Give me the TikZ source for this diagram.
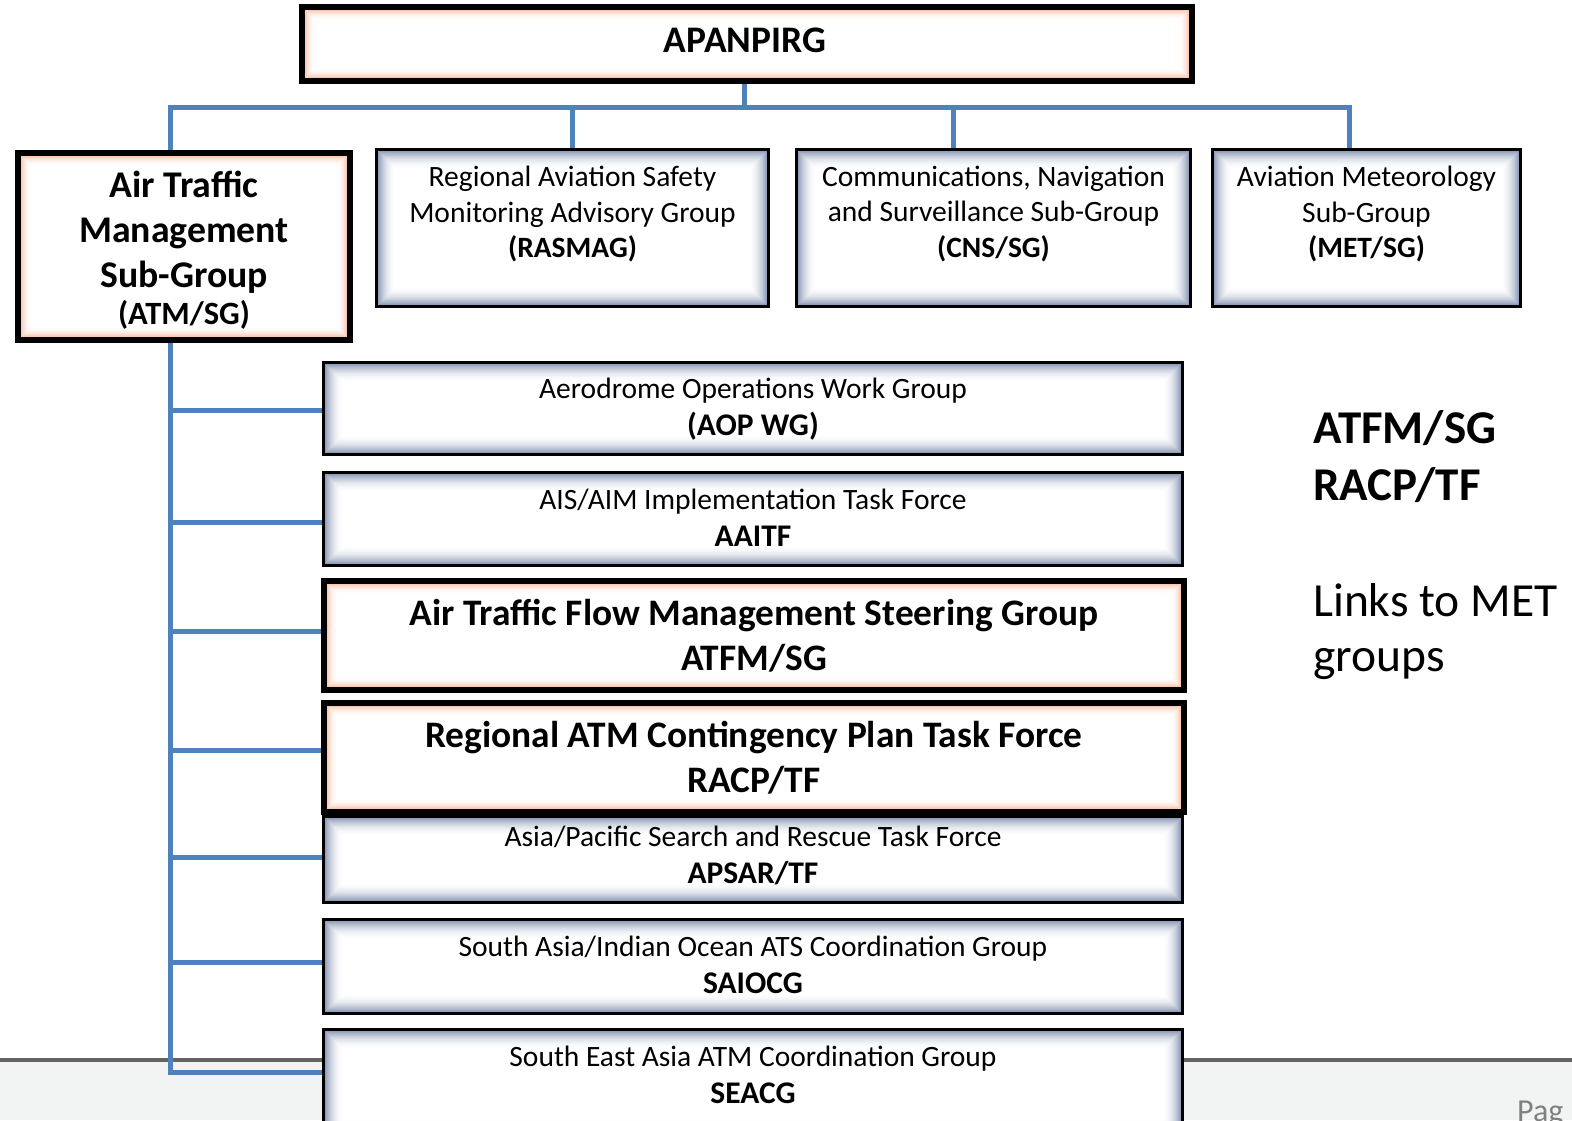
\documentclass[tikz,border=0pt]{standalone}
\usepackage{fontspec}
\setmainfont{Carlito}
\usetikzlibrary{calc}
\definecolor{conn}{RGB}{79,129,189}
\definecolor{blueglow}{RGB}{120,136,170}
\definecolor{orangeglow}{RGB}{246,150,104}
\definecolor{footline}{RGB}{100,100,100}
\definecolor{footfill}{RGB}{242,244,244}
\pgfdeclarelayer{bg}
\pgfsetlayers{bg,main}
\newcommand{\boldline}{\bfseries\fontsize{31.5}{36}\selectfont}
\tikzset{
  glow/.style 2 args={path picture={
    \foreach \i in {0,...,#2}{
      \pgfmathsetmacro\glowpct{100*(1-\i/#2)^2}
      \draw[draw=#1!\glowpct!white, line width=1.4pt]
        ([shift={(\i pt,-\i pt)}]path picture bounding box.north west) rectangle
        ([shift={(-\i pt,\i pt)}]path picture bounding box.south east);
    }}},
  bbox/.style={draw=black, line width=3pt, fill=white, glow={blueglow}{20}, inner sep=0pt},
  obox/.style={draw=black, line width=6pt, fill=white, glow={orangeglow}{14}, inner sep=0pt},
  link/.style={draw=conn, line width=5pt},
  small/.style={font=\fontsize{29.5}{35.5}\selectfont, align=center, inner sep=0pt},
  big/.style={font=\bfseries\fontsize{37.4}{45}\selectfont, align=center, inner sep=0pt},
  side/.style={anchor=base west, inner sep=0pt, font=\fontsize{47.5}{56}\selectfont},
}
\begin{document}
\begin{tikzpicture}[x=1pt,y=-1pt]
\useasboundingbox (0,0) rectangle (1572,1120);
\coordinate (spine) at (170,0);
\coordinate (bus) at (0,107);

% top level
\node[obox, minimum width=890pt, minimum height=74pt] (apan) at (747,44) {};
\node[inner sep=0pt, font=\bfseries\fontsize{37.5}{44}\selectfont] (tapan) at (745,40) {APANPIRG};

% sub-groups
\node[obox, minimum width=332pt, minimum height=187pt] (atm) at (184,246.5) {};
\node[big, font=\bfseries\fontsize{37.7}{45}\selectfont] (tatm) at (184,232) {Air Traffic\\Management\\Sub-Group};
\node[anchor=base, inner sep=0pt, font=\bfseries\fontsize{32.5}{38}\selectfont] (tatm2) at (184,324) {(ATM/SG)};

\node[bbox, minimum width=392pt, minimum height=157pt] (rasmag) at (572.5,228) {};
\node[small] (trasmag) at (572.5,214) {Regional Aviation Safety\\Monitoring Advisory Group\\\textbf{(RASMAG)}};

\node[bbox, minimum width=394pt, minimum height=157pt] (cns) at (993.5,228) {};
\node[small] (tcns) at (993.5,214) {Communications, Navigation\\and Surveillance Sub-Group\\\textbf{(CNS/SG)}};

\node[bbox, minimum width=308pt, minimum height=157pt] (met) at (1366.5,228) {};
\node[small] (tmet) at (1366.5,214) {Aviation Meteorology\\Sub-Group\\\textbf{(MET/SG)}};

% ATM/SG groups
\node[bbox, minimum width=859pt, minimum height=92pt] (aop) at (753,408.5) {};
\node[small] (taop) at (753,409) {Aerodrome Operations Work Group\\[1.5pt]{\boldline (AOP WG)}};

\node[bbox, minimum width=859pt, minimum height=93pt] (aaitf) at (753,519) {};
\node[small] (taaitf) at (753,518) {AIS/AIM Implementation Task Force\\[1.5pt]{\boldline AAITF}};

\node[bbox, minimum width=859pt, minimum height=86pt] (apsar) at (753,859.5) {};
\node[small] (tapsar) at (753,855) {Asia/Pacific Search and Rescue Task Force\\[1.5pt]{\boldline APSAR/TF}};

\node[bbox, minimum width=859pt, minimum height=94pt] (saiocg) at (753,966.5) {};
\node[small] (tsaiocg) at (753,965) {South Asia/Indian Ocean ATS Coordination Group\\[1.5pt]{\boldline SAIOCG}};

\node[bbox, minimum width=859pt, minimum height=109pt] (seacg) at (753,1084) {};
\node[small] (tseacg) at (753,1075) {South East Asia ATM Coordination Group\\[1.5pt]{\boldline SEACG}};

\node[obox, minimum width=860pt, minimum height=109pt] (atfm) at (754,635.5) {};
\node[big] (tatfm) at (754,635.5) {Air Traffic Flow Management Steering Group\\ATFM/SG};

\node[obox, minimum width=860pt, minimum height=109pt] (racp) at (754,757.5) {};
\node[big] (tracp) at (754,757.5) {Regional ATM Contingency Plan Task Force\\RACP/TF};

% side notes
\node[side, font=\bfseries\fontsize{47}{56}\selectfont] (s1) at (1313,443) {ATFM/SG};
\node[side, font=\bfseries\fontsize{47}{56}\selectfont] (s2) at (1313,500) {RACP/TF};
\node[side] (s3) at (1313,616) {Links to MET};
\node[side] (s4) at (1313,671) {groups};

\begin{pgfonlayer}{bg}
  \fill[footfill] (0,1060) rectangle (1572,1120);
  \draw[footline, line width=3.5pt] (0,1060) -- (1572,1060);
  \begin{scope}
    \clip (0,0) rectangle (1572,1120);
    \node[anchor=north west, inner sep=0pt, text=gray, font=\fontsize{32}{36}\selectfont] (page) at (1517,1101) {Pag};
  \end{scope}
  % connectors
  \draw[link] ([xshift=-3pt]apan.south) -- ([xshift=-3pt]apan.south |- bus);
  \draw[link] (spine |- atm.north) -- (spine |- bus) -- ([xshift=-17.5pt]met.north |- bus) -- ([xshift=-17.5pt]met.north);
  \draw[link] (rasmag.north) -- (rasmag.north |- bus);
  \draw[link] ([xshift=-40pt]cns.north) -- ([xshift=-40pt]cns.north |- bus);
  \draw[link] (spine |- atm.south) |- ([yshift=11.5pt]seacg.west);
  \draw[link] ([yshift=-1.5pt]spine |- aop.west) -- ([yshift=-1.5pt]aop.west);
  \draw[link] ([yshift=-3pt]spine |- aaitf.west) -- ([yshift=-3pt]aaitf.west);
  \draw[link] ([yshift=4.5pt]spine |- atfm.west) -- ([yshift=4.5pt]atfm.west);
  \draw[link] ([yshift=7.5pt]spine |- racp.west) -- ([yshift=7.5pt]racp.west);
  \draw[link] ([yshift=2.5pt]spine |- apsar.west) -- ([yshift=2.5pt]apsar.west);
  \draw[link] ([yshift=4.5pt]spine |- saiocg.west) -- ([yshift=4.5pt]saiocg.west);
\end{pgfonlayer}
\end{tikzpicture}
\end{document}
